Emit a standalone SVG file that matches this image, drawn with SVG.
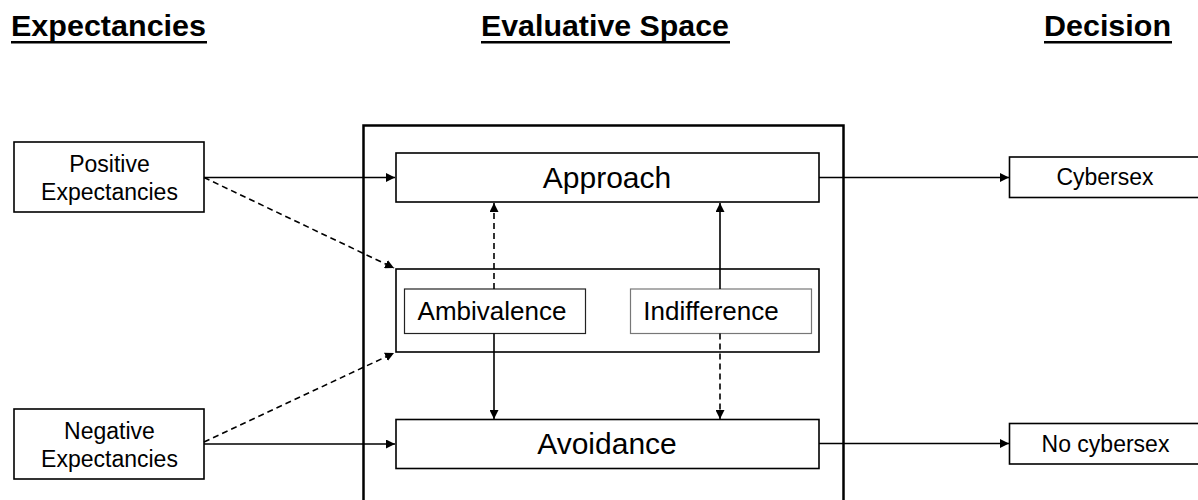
<svg xmlns="http://www.w3.org/2000/svg" width="1198" height="500" viewBox="0 0 1198 500">
<defs>
<marker id="ah" viewBox="0 0 10 10" refX="10" refY="5" markerWidth="9" markerHeight="9" markerUnits="userSpaceOnUse" orient="auto">
<path d="M0,0 L10,5 L0,10 Z" fill="#000"/>
</marker>
<style>
text{font-family:"Liberation Sans",Arial,sans-serif;fill:#000}
.title{font-size:30px;font-weight:bold}
.ul{stroke:#000;stroke-width:2.5}
.box{fill:#fff;stroke:#000;stroke-width:1.6}
.ibox{fill:#fff;stroke:#222;stroke-width:1.2}
.c{fill:none;stroke:#000;stroke-width:1.6}
.d{stroke-dasharray:6 4}
.t23{font-size:23px}
.t26{font-size:26px}
.t30{font-size:30px}
</style>
</defs>
<rect width="1198" height="500" fill="#fff"/>
<g id="titles">
<text class="title" x="11" y="36" textLength="195" lengthAdjust="spacingAndGlyphs">Expectancies</text>
<line class="ul" x1="11" y1="42.2" x2="207" y2="42.2"/>
<text class="title" x="481" y="36" textLength="248" lengthAdjust="spacingAndGlyphs">Evaluative Space</text>
<line class="ul" x1="481" y1="42.2" x2="730" y2="42.2"/>
<text class="title" x="1044" y="36" textLength="127" lengthAdjust="spacingAndGlyphs">Decision</text>
<line class="ul" x1="1044" y1="42.2" x2="1172" y2="42.2"/>
</g>
<g id="evaluative-space">
<rect x="363.5" y="125.5" width="480" height="400" fill="none" stroke="#000" stroke-width="2.5"/>
</g>
<g id="positive">
<rect class="box" x="14" y="142" width="190" height="70"/>
<text class="t23" x="109.5" y="171.5" text-anchor="middle">Positive</text>
<text class="t23" x="109.5" y="199.5" text-anchor="middle">Expectancies</text>
</g>
<g id="negative">
<rect class="box" x="14" y="409" width="190" height="70"/>
<text class="t23" x="109.5" y="439" text-anchor="middle">Negative</text>
<text class="t23" x="109.5" y="467" text-anchor="middle">Expectancies</text>
</g>
<g id="approach">
<rect class="box" x="396" y="153" width="423" height="49"/>
<text class="t30" x="607" y="188" text-anchor="middle">Approach</text>
</g>
<g id="middle">
<rect class="box" x="396" y="269" width="423" height="83"/>
</g>
<g id="ambivalence">
<rect class="ibox" x="404.5" y="289" width="181" height="44.5"/>
<text class="t26" x="492" y="320" text-anchor="middle">Ambivalence</text>
</g>
<g id="indifference">
<rect fill="#fff" stroke="#777" stroke-width="1.2" x="630.5" y="289" width="181" height="44.5"/>
<text class="t26" x="711" y="320" text-anchor="middle">Indifference</text>
</g>
<g id="avoidance">
<rect class="box" x="396" y="419.5" width="423" height="49"/>
<text class="t30" x="607" y="454" text-anchor="middle">Avoidance</text>
</g>
<g id="cybersex">
<rect class="box" x="1009.5" y="157" width="200" height="40.5"/>
<text class="t23" x="1105" y="185" text-anchor="middle">Cybersex</text>
</g>
<g id="no-cybersex">
<rect class="box" x="1009.5" y="423.5" width="200" height="40.5"/>
<text class="t23" x="1105.5" y="452" text-anchor="middle">No cybersex</text>
</g>
<g id="connectors">
<line class="c" x1="204" y1="177.5" x2="395" y2="177.5" marker-end="url(#ah)"/>
<line class="c d" x1="204" y1="177.5" x2="394" y2="268" marker-end="url(#ah)"/>
<line class="c" x1="204" y1="444" x2="395" y2="444" marker-end="url(#ah)"/>
<line class="c d" x1="204" y1="442" x2="394" y2="353" marker-end="url(#ah)"/>
<line class="c d" x1="494" y1="289" x2="494" y2="203" marker-end="url(#ah)"/>
<line class="c" x1="720" y1="289" x2="720" y2="203" marker-end="url(#ah)"/>
<line class="c" x1="494" y1="333.5" x2="494" y2="419" marker-end="url(#ah)"/>
<line class="c d" x1="720" y1="333.5" x2="720" y2="419" marker-end="url(#ah)"/>
<line class="c" x1="819" y1="177.5" x2="1009" y2="177.5" marker-end="url(#ah)"/>
<line class="c" x1="819" y1="443.5" x2="1009" y2="443.5" marker-end="url(#ah)"/>
</g>
</svg>
